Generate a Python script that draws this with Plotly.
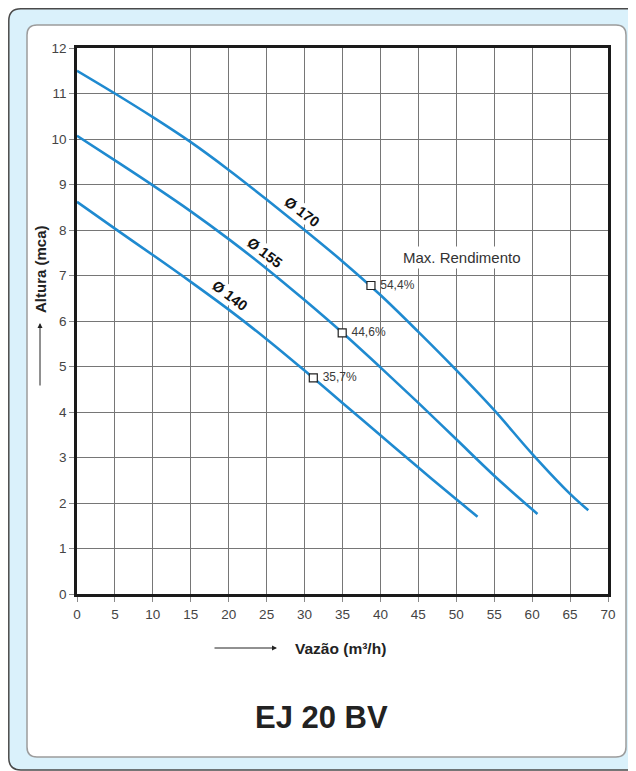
import plotly.graph_objects as go

# ---------------- data ----------------
x_170 = [0, 5, 10, 15, 20, 25, 30, 35, 40, 45, 50, 55, 60, 65, 67.4]
y_170 = [11.5, 11.0, 10.48, 9.93, 9.32, 8.67, 8.0, 7.31, 6.57, 5.76, 4.92, 4.04, 3.08, 2.2, 1.84]

x_155 = [0, 5, 10, 15, 20, 25, 30, 35, 40, 45, 50, 55, 60.7]
y_155 = [10.07, 9.53, 8.98, 8.41, 7.80, 7.15, 6.46, 5.74, 4.98, 4.20, 3.40, 2.60, 1.76]

x_140 = [0, 5, 10, 15, 20, 25, 30, 35, 40, 45, 50, 52.8]
y_140 = [8.62, 8.03, 7.45, 6.86, 6.25, 5.60, 4.91, 4.20, 3.49, 2.78, 2.08, 1.70]

curve_names = ["Ø 170", "Ø 155", "Ø 140"]
label_x = [29.66, 24.8, 20.2]
label_y = [8.39, 7.50, 6.55]

eff_x = [38.75, 34.96, 31.15]
eff_y = [6.78, 5.74, 4.75]
eff_text = ["54,4%", "44,6%", "35,7%"]

x_ticks = list(range(0, 71, 5))
y_ticks = list(range(0, 13, 1))

# ---------------- layout geometry ----------------
W, H = 636, 771
L, R, T, B = 69, 36, 40, 185
PW, PH = W - L - R, H - T - B
S = 8  # page body margin offset (screen coords -> figure coords)

def px(xs):
    return (xs - S - L) / PW

def py(ys):
    return (H - B - (ys - S)) / PH

def rrect(x0, y0, x1, y1, r):
    pts = [
        ("M", [(x0 + r, y0)]),
        ("L", [(x1 - r, y0)]),
        ("Q", [(x1, y0), (x1, y0 + r)]),
        ("L", [(x1, y1 - r)]),
        ("Q", [(x1, y1), (x1 - r, y1)]),
        ("L", [(x0 + r, y1)]),
        ("Q", [(x0, y1), (x0, y1 - r)]),
        ("L", [(x0, y0 + r)]),
        ("Q", [(x0, y0), (x0 + r, y0)]),
    ]
    s = ""
    for cmd, pl in pts:
        s += cmd + " " + " ".join(f"{px(a):.5f},{py(b):.5f}" for a, b in pl) + " "
    return s + "Z"

BLUE = "#1f8ad0"
FONT = "Liberation Sans, Arial, sans-serif"

fig = go.Figure()
for xs, ys in [(x_170, y_170), (x_155, y_155), (x_140, y_140)]:
    fig.add_trace(go.Scatter(
        x=xs, y=ys, mode="lines",
        line=dict(color=BLUE, width=2.6, shape="spline", smoothing=1.0),
        hoverinfo="skip", showlegend=False))

fig.add_trace(go.Scatter(
    x=eff_x, y=eff_y, mode="markers+text",
    text=[" " + t for t in eff_text], textposition="middle right",
    textfont=dict(family=FONT, size=12, color="#3a3a3a"),
    marker=dict(symbol="square", size=8, color="white",
                line=dict(color="#222222", width=1.2)),
    hoverinfo="skip", showlegend=False))

annotations = []
for name, lx, ly in zip(curve_names, label_x, label_y):
    annotations.append(dict(
        x=lx, y=ly, xref="x", yref="y", text="<b>" + name + "</b>",
        showarrow=False, textangle=37, bgcolor="white", borderpad=0,
        xanchor="center", yanchor="middle",
        font=dict(family=FONT, size=14.5, color="#111111")))

annotations.append(dict(
    x=50.75, y=7.40, xref="x", yref="y", text="Max. Rendimento",
    showarrow=False, bgcolor="white", borderpad=2,
    xanchor="center", yanchor="middle",
    font=dict(family=FONT, size=15, color="#333333")))

# axis titles with arrows
annotations.append(dict(
    x=px(40), y=py(269), xref="paper", yref="paper",
    text="<b>Altura (mca)</b>", textangle=-90, showarrow=False,
    xanchor="center", yanchor="middle",
    font=dict(family=FONT, size=15, color="#222222")))
annotations.append(dict(
    x=px(40), y=py(323), xref="paper", yref="paper", text="",
    showarrow=True, ax=0, ay=64, arrowhead=2, arrowsize=1,
    arrowwidth=1, arrowcolor="#222222", standoff=0))
annotations.append(dict(
    x=px(340), y=py(648), xref="paper", yref="paper",
    text="<b>Vazão (m³/h)</b>", showarrow=False,
    xanchor="center", yanchor="middle",
    font=dict(family=FONT, size=15.5, color="#222222")))
annotations.append(dict(
    x=px(277), y=py(648), xref="paper", yref="paper", text="",
    showarrow=True, ax=-64, ay=0, arrowhead=2, arrowsize=1,
    arrowwidth=1, arrowcolor="#222222", standoff=0))
annotations.append(dict(
    x=px(321.5), y=py(717), xref="paper", yref="paper",
    text="<b>EJ 20 BV</b>", showarrow=False,
    xanchor="center", yanchor="middle",
    font=dict(family=FONT, size=31, color="#222222")))

shapes = [
    dict(type="path", xref="paper", yref="paper", layer="below",
         path=rrect(8.8, 8.8, 670, 770, 12),
         fillcolor="#daf1fb", line=dict(color="#4a4a4a", width=1.5)),
    dict(type="path", xref="paper", yref="paper", layer="below",
         path=rrect(27, 25, 626, 757, 10),
         fillcolor="white", line=dict(color="#9c9c9c", width=1.5)),
]

axis_common = dict(
    showgrid=True, gridcolor="#767676", gridwidth=1,
    showline=True, linecolor="#1a1a1a", linewidth=2.5, mirror=True,
    ticks="outside", ticklen=5, tickcolor="#8a8a8a", tickwidth=1,
    tickfont=dict(family=FONT, size=13.5, color="#444444"),
    zeroline=False, automargin=False, fixedrange=True,
)

fig.update_layout(
    width=W, height=H,
    margin=dict(l=L, r=R, t=T, b=B, pad=0),
    paper_bgcolor="white", plot_bgcolor="white",
    xaxis=dict(range=[0, 70], tickmode="array", tickvals=x_ticks,
               ticklabelstandoff=1, **axis_common),
    yaxis=dict(range=[0, 12], tickmode="array", tickvals=y_ticks,
               ticklabelstandoff=0, **axis_common),
    annotations=annotations, shapes=shapes,
    showlegend=False,
)

fig.write_html("out.html")
